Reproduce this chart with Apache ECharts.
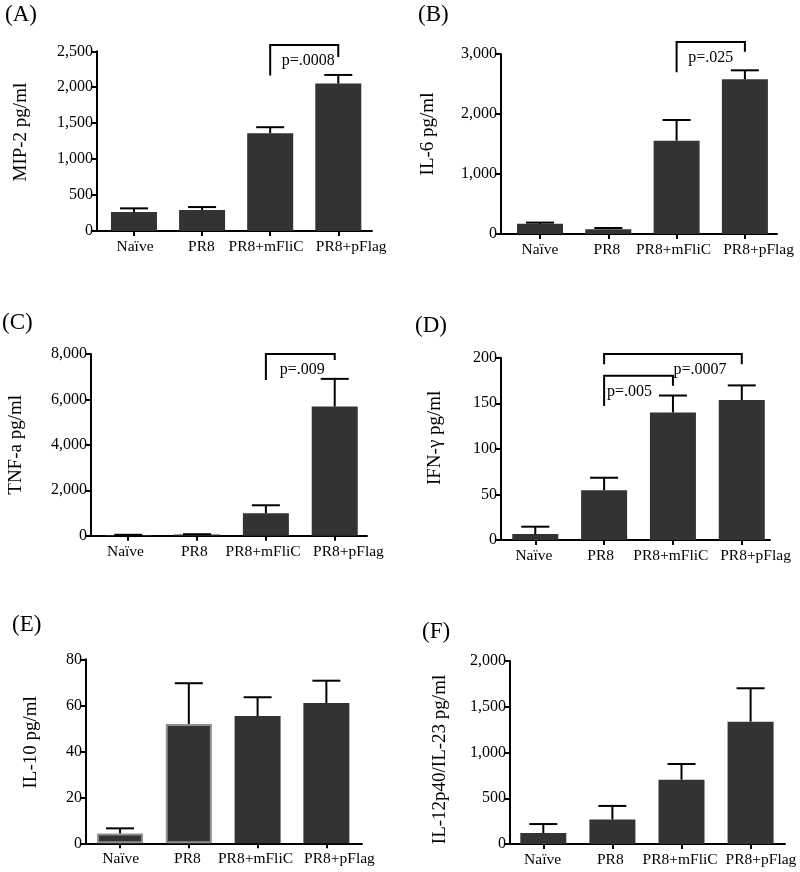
<!DOCTYPE html>
<html>
<head>
<meta charset="utf-8">
<script src="https://cdn.jsdelivr.net/npm/echarts@6/dist/echarts.min.js"></script>
<style>
html,body{margin:0;padding:0;background:#fff;}
#chart{width:800px;height:872px;}
</style>
</head>
<body>
<div id="chart"></div>
<script>
// ---------- data ----------
const categories = ['Naïve', 'PR8', 'PR8+mFliC', 'PR8+pFlag'];
const panelLabels = ['(A)', '(B)', '(C)', '(D)', '(E)', '(F)'];
const yTitles = ['MIP-2 pg/ml', 'IL-6 pg/ml', 'TNF-a pg/ml', 'IFN-γ pg/ml', 'IL-10 pg/ml', 'IL-12p40/IL-23 pg/ml'];
const yMax = [2500, 3000, 8000, 200, 80, 2000];
const yStep = [500, 1000, 2000, 50, 20, 500];

const mip2Mean = [265, 292, 1361, 2051];
const mip2Upper = [315, 333, 1444, 2171];
const il6Mean = [170, 78, 1555, 2578];
const il6Upper = [190, 100, 1900, 2728];
const tnfMean = [30, 50, 988, 5685];
const tnfUpper = [40, 65, 1340, 6905];
const ifnMean = [6.6, 54.5, 139.9, 153.5];
const ifnUpper = [14.6, 68.3, 158.5, 169.6];
const il10Mean = [4.3, 51.9, 55.3, 61];
const il10Upper = [6.5, 69.6, 63.5, 70.7];
const il12Mean = [120, 268, 703, 1337];
const il12Upper = [218, 416, 874, 1702];

// brackets: [fromIndex, toIndex, topValue, leftEndValue, rightEndValue]
const bracketsA = [[2, 3, 2587, 2162, 2421]];
const bracketsB = [[2, 3, 3200, 2695, 3038]];
const bracketsC = [[2, 3, 8000, 6860, 7740]];
const bracketsD = [[1, 3, 204, 192.7, 192.7], [1, 2, 180.3, 147, 169.3]];
const pLabelsA = ['p=.0008'];
const pLabelsB = ['p=.025'];
const pLabelsC = ['p=.009'];
const pLabelsD = ['p=.0007', 'p=.005'];

const means = [mip2Mean, il6Mean, tnfMean, ifnMean, il10Mean, il12Mean];
const uppers = [mip2Upper, il6Upper, tnfUpper, ifnUpper, il10Upper, il12Upper];
const brackets = [bracketsA, bracketsB, bracketsC, bracketsD, [], []];
const pLabels = [pLabelsA, pLabelsB, pLabelsC, pLabelsD, [], []];

// ---------- layout / style ----------
const FONT = "'Liberation Serif', 'DejaVu Serif', serif";
const layout = [
  {left: 97,  right: 372, top: 51.3, bottom: 231,   xmin: -0.543, xmax: 3.495, nameGap: 66, namePad: 18, label: [5, 3],
   labelPos: [0.015, 0.99, 1.94, 3.19]},
  {left: 501, right: 777, top: 54,   bottom: 234,   xmin: -0.571, xmax: 3.47,  nameGap: 63, namePad: 20, label: [418, 3],
   labelPos: [0.0, 0.98, 1.955, 3.2]},
  {left: 91,  right: 367, top: 354,  bottom: 535.7, xmin: -0.541, xmax: 3.469, nameGap: 65, namePad: 0,  label: [2, 311],
   labelPos: [-0.04, 0.96, 1.96, 3.2]},
  {left: 501, right: 770, top: 357.7,bottom: 540,   xmin: -0.498, xmax: 3.41,  nameGap: 56, namePad: 22, label: [415, 314],
   labelPos: [-0.02, 0.95, 1.97, 3.2]},
  {left: 86,  right: 362, top: 659.3,bottom: 843.3, xmin: -0.495, xmax: 3.518, nameGap: 45, namePad: 18, label: [12, 613],
   labelPos: [0.01, 0.98, 1.97, 3.19]},
  {left: 510, right: 785, top: 661,  bottom: 844,   xmin: -0.482, xmax: 3.498, nameGap: 60, namePad: -14,label: [422, 620],
   labelPos: [-0.01, 0.97, 1.98, 3.15]}
];
const labelDx = [[4], [0], [2], [27, -9]];
const outlinedBars = {4: [0, 1]}; // panel E: gray-edged bars

const chart = echarts.init(document.getElementById('chart'), null, {renderer: 'canvas'});

function nearestIdx(arr, v) {
  let best = 0;
  for (let i = 1; i < arr.length; i++) if (Math.abs(arr[i] - v) < Math.abs(arr[best] - v)) best = i;
  return best;
}

const grids = [], xAxes = [], yAxes = [], series = [], titles = [];
layout.forEach((L, k) => {
  grids.push({left: L.left, top: L.top, width: L.right - L.left, height: L.bottom - L.top, containLabel: false});
  xAxes.push({
    gridIndex: k, type: 'value', min: L.xmin, max: L.xmax,
    axisLine: {show: true, onZero: false, lineStyle: {color: '#000', width: 2}},
    axisTick: {show: true, customValues: [0, 1, 2, 3], length: 5, lineStyle: {color: '#000', width: 2}},
    axisLabel: {show: true, customValues: L.labelPos, formatter: v => categories[nearestIdx(L.labelPos, v)],
      color: '#000', fontFamily: FONT, fontSize: 15.5, margin: 8,
      hideOverlap: false},
    splitLine: {show: false}
  });
  yAxes.push({
    gridIndex: k, type: 'value', min: 0, max: yMax[k], interval: yStep[k],
    name: yTitles[k], nameLocation: 'middle', nameGap: L.nameGap,
    nameTextStyle: {color: '#000', fontFamily: FONT, fontSize: 19,
      padding: L.namePad >= 0 ? [0, 0, 0, L.namePad] : [0, -L.namePad, 0, 0]},
    axisLine: {show: true, onZero: false, lineStyle: {color: '#000', width: 2}},
    axisTick: {show: true, length: 5, lineStyle: {color: '#000', width: 2}},
    axisLabel: {color: '#000', fontFamily: FONT, fontSize: 16, margin: 4,
      formatter: v => Number(v).toLocaleString('en-US')},
    splitLine: {show: false}
  });
  const outl = outlinedBars[k] || [];
  series.push({
    type: 'bar', xAxisIndex: k, yAxisIndex: k, barWidth: 46, z: 2,
    itemStyle: {color: '#333333'},
    data: means[k].map((v, i) => outl.includes(i)
      ? {value: [i, v], itemStyle: {color: '#333333', borderColor: '#8f8f8f', borderWidth: 2}}
      : {value: [i, v]})
  });
  series.push({
    type: 'custom', xAxisIndex: k, yAxisIndex: k, z: 3, clip: false, silent: true,
    data: means[k].map((v, i) => [i, v, uppers[k][i]]),
    renderItem: (params, api) => {
      const p0 = api.coord([api.value(0), api.value(1)]);
      const p1 = api.coord([api.value(0), api.value(2)]);
      const st = {stroke: '#000', lineWidth: 2};
      return {type: 'group', children: [
        {type: 'line', shape: {x1: p0[0], y1: p0[1], x2: p1[0], y2: p1[1]}, style: st},
        {type: 'line', shape: {x1: p1[0] - 14, y1: p1[1], x2: p1[0] + 14, y2: p1[1]}, style: st}
      ]};
    }
  });
  if (brackets[k].length) {
    series.push({
      type: 'custom', xAxisIndex: k, yAxisIndex: k, z: 4, clip: false, silent: true,
      data: brackets[k],
      renderItem: (params, api) => {
        const a = api.value(0), b = api.value(1), top = api.value(2);
        const pl = api.coord([a, api.value(3)]);
        const plt = api.coord([a, top]);
        const prt = api.coord([b, top]);
        const pr = api.coord([b, api.value(4)]);
        const dx = labelDx[k][params.dataIndex];
        return {type: 'group', children: [
          {type: 'polyline', shape: {points: [pl, plt, prt, pr]},
            style: {stroke: '#000', lineWidth: 2, fill: null}},
          {type: 'text', x: (plt[0] + prt[0]) / 2 + dx, y: plt[1] + 16,
            style: {text: pLabels[k][params.dataIndex], fill: '#000',
              font: '16px ' + FONT, align: 'center', verticalAlign: 'middle'}}
        ]};
      }
    });
  }
  titles.push({text: panelLabels[k], left: L.label[0], top: L.label[1], padding: 0,
    textStyle: {color: '#000', fontFamily: FONT, fontSize: 23, fontWeight: 'normal'}});
});

chart.setOption({
  animation: false,
  backgroundColor: '#fff',
  title: titles,
  grid: grids,
  xAxis: xAxes,
  yAxis: yAxes,
  series: series
});
</script>
</body>
</html>
